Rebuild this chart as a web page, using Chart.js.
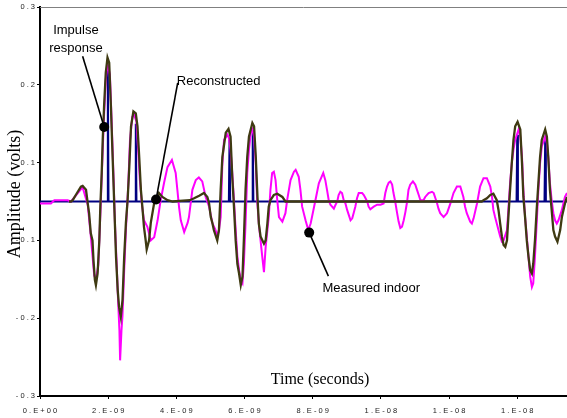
<!DOCTYPE html>
<html>
<head>
<meta charset="utf-8">
<script src="https://cdn.jsdelivr.net/npm/chart.js@4.4.1/dist/chart.umd.min.js"></script>
<style>
  html, body { margin: 0; padding: 0; background: #fff; }
  #wrap { width: 567px; height: 418px; position: relative; }
</style>
</head>
<body>
<div id="wrap"><canvas id="chart"></canvas></div>
<script>
// time in ns, amplitude in volts
const reconT = [0.85, 0.91, 0.96, 1.05, 1.20, 1.25, 1.35, 1.40, 1.44, 1.49, 1.54, 1.57, 1.61, 1.64, 1.69, 1.74, 1.77, 1.81, 1.84, 1.88,
  1.93, 1.98, 2.03, 2.08, 2.13, 2.18, 2.23, 2.28, 2.32, 2.37, 2.42, 2.47, 2.52, 2.57, 2.62, 2.67, 2.74, 2.81, 2.86, 2.91,
  2.96, 3.01, 3.05, 3.10, 3.13, 3.20, 3.25, 3.35, 3.45, 3.49, 3.59, 3.74, 3.89, 4.40, 4.52, 4.67, 4.81, 4.91, 4.96, 5.01,
  5.06, 5.10, 5.20, 5.25, 5.30, 5.35, 5.45, 5.53, 5.59, 5.64, 5.69, 5.74, 5.79, 5.84, 5.89, 5.94, 5.98, 6.03, 6.08, 6.13,
  6.23, 6.28, 6.33, 6.38, 6.42, 6.47, 6.57, 6.62, 6.67, 6.71, 6.76, 6.86, 6.96, 7.11, 7.20, 12.96, 13.01, 13.11, 13.21, 13.30,
  13.40, 13.45, 13.50, 13.55, 13.60, 13.65, 13.70, 13.74, 13.79, 13.84, 13.89, 13.94, 14.01, 14.09, 14.14, 14.18, 14.23, 14.28, 14.33, 14.38,
  14.43, 14.47, 14.52, 14.57, 14.62, 14.67, 14.72, 14.82, 14.87, 14.91, 14.96, 15.01, 15.06, 15.11, 15.18, 15.26, 15.31, 15.40, 15.46];
const reconV = [0, 0, 0.002, 0.010, 0.023, 0.024, 0.018, -0.003, -0.018, -0.049, -0.060, -0.091, -0.121, -0.129, -0.111, -0.060, -0.008, 0.044, 0.095, 0.147,
  0.199, 0.222, 0.214, 0.147, 0.069, -0.008, -0.085, -0.137, -0.163, -0.178, -0.152, -0.085, -0.033, 0.002, 0.054, 0.116, 0.139, 0.136, 0.116, 0.069,
  0.018, -0.013, -0.039, -0.060, -0.074, -0.060, -0.033, -0.002, 0.007, 0.013, 0.007, 0.002, 0, 0.002, 0.005, 0.009, 0.013, 0.007, -0.003, -0.024,
  -0.034, -0.044, -0.060, -0.044, 0.018, 0.069, 0.106, 0.112, 0.100, 0.038, -0.008, -0.060, -0.096, -0.111, -0.129, -0.116, -0.060, 0.018, 0.069, 0.100,
  0.121, 0.116, 0.069, 0.007, -0.034, -0.054, -0.065, -0.060, -0.034, -0.008, 0.002, 0.010, 0.012, 0.007, 0, 0, 0.002, 0.005, 0.010, 0.012,
  0.002, -0.013, -0.034, -0.054, -0.067, -0.070, -0.060, -0.024, 0.018, 0.059, 0.095, 0.116, 0.123, 0.111, 0.059, 0.007, -0.024, -0.060, -0.085, -0.106,
  -0.111, -0.096, -0.060, -0.013, 0.028, 0.069, 0.095, 0.111, 0.100, 0.069, 0.018, -0.013, -0.044, -0.054, -0.062, -0.044, -0.024, -0.003, 0.007];

const measT = [0, 0.32, 0.42, 0.81, 0.91, 1.05, 1.25, 1.40, 1.49, 1.59, 1.64, 1.71, 1.77, 1.84, 1.88, 1.93, 1.98, 2.05, 2.10, 2.16,
  2.20, 2.25, 2.29, 2.33, 2.35, 2.39, 2.42, 2.47, 2.52, 2.59, 2.64, 2.71, 2.76, 2.83, 2.88, 2.93, 2.99, 3.05, 3.15, 3.25,
  3.35, 3.45, 3.54, 3.64, 3.74, 3.87, 3.98, 4.03, 4.08, 4.13, 4.23, 4.33, 4.37, 4.47, 4.57, 4.66, 4.76, 4.86, 4.96, 5.06,
  5.15, 5.20, 5.25, 5.30, 5.35, 5.40, 5.50, 5.54, 5.59, 5.64, 5.69, 5.74, 5.79, 5.84, 5.89, 5.94, 5.98, 6.03, 6.08, 6.13,
  6.18, 6.23, 6.28, 6.33, 6.37, 6.42, 6.47, 6.52, 6.57, 6.62, 6.71, 6.76, 6.81, 6.86, 6.91, 6.96, 7.01, 7.11, 7.20, 7.25,
  7.35, 7.45, 7.50, 7.59, 7.64, 7.69, 7.79, 7.87, 7.94, 8.08, 8.18, 8.31, 8.37, 8.42, 8.47, 8.52, 8.62, 8.67, 8.72, 8.76,
  8.81, 8.86, 8.91, 8.96, 9.01, 9.06, 9.11, 9.16, 9.20, 9.25, 9.30, 9.35, 9.45, 9.50, 9.55, 9.60, 9.64, 9.69, 9.79, 9.89,
  9.99, 10.08, 10.13, 10.18, 10.23, 10.28, 10.33, 10.37, 10.42, 10.47, 10.52, 10.57, 10.62, 10.67, 10.72, 10.77, 10.81, 10.86, 10.94, 11.01,
  11.06, 11.11, 11.16, 11.25, 11.30, 11.40, 11.50, 11.55, 11.60, 11.65, 11.69, 11.74, 11.84, 11.94, 12.04, 12.13, 12.23, 12.33, 12.42, 12.47,
  12.52, 12.62, 12.67, 12.72, 12.82, 12.91, 13.01, 13.11, 13.21, 13.26, 13.30, 13.35, 13.40, 13.45, 13.50, 13.55, 13.60, 13.70, 13.74, 13.79,
  13.84, 13.89, 13.94, 14.04, 14.09, 14.14, 14.18, 14.23, 14.28, 14.33, 14.38, 14.43, 14.47, 14.52, 14.57, 14.62, 14.67, 14.72, 14.82, 14.87,
  14.91, 14.96, 15.01, 15.06, 15.11, 15.16, 15.21, 15.31, 15.40, 15.46];
const measV = [-0.003, -0.003, 0.002, 0.002, 0, 0.009, 0.022, -0.005, -0.053, -0.114, -0.121, -0.098, -0.021, 0.080, 0.134, 0.188, 0.212, 0.196, 0.126, 0.033,
  -0.036, -0.098, -0.152, -0.199, -0.245, -0.199, -0.176, -0.106, -0.044, 0.026, 0.095, 0.131, 0.134, 0.123, 0.080, 0.033, -0.005, -0.029, -0.039, -0.060,
  -0.055, -0.029, 0.002, 0.029, 0.053, 0.064, 0.044, 0.018, -0.009, -0.029, -0.047, -0.033, -0.024, 0.018, 0.033, 0.037, 0.031, 0.007, -0.008, -0.034,
  -0.044, -0.054, -0.044, -0.024, 0.059, 0.095, 0.103, 0.098, 0.080, 0.044, 0.002, -0.044, -0.085, -0.106, -0.121, -0.126, -0.096, -0.034, 0.044, 0.080,
  0.105, 0.111, 0.100, 0.059, 0.002, -0.034, -0.060, -0.085, -0.109, -0.070, -0.024, 0.018, 0.044, 0.046, 0.033, 0.002, -0.024, -0.031, -0.018, 0.002,
  0.033, 0.046, 0.049, 0.038, 0.018, -0.008, -0.029, -0.044, -0.034, 0.002, 0.028, 0.044, 0.033, 0.018, 0.002, -0.005, -0.011, -0.005, 0, 0.010,
  0.015, 0.013, 0.002, -0.003, -0.013, -0.021, -0.029, -0.026, -0.018, -0.008, 0.005, 0.013, 0.013, 0.010, 0.005, 0, -0.008, -0.012, -0.008, -0.005,
  -0.005, -0.003, 0.013, 0.023, 0.029, 0.031, 0.026, 0.013, 0, -0.016, -0.031, -0.041, -0.039, -0.029, -0.016, 0, 0.018, 0.026, 0.031, 0.026,
  0.018, 0.010, 0.002, 0.002, 0.007, 0.013, 0.015, 0.013, 0.005, -0.003, -0.011, -0.018, -0.024, -0.018, -0.003, 0.013, 0.023, 0.023, 0.007, -0.008,
  -0.018, -0.031, -0.034, -0.026, -0.003, 0.023, 0.036, 0.036, 0.023, 0.007, -0.013, -0.024, -0.034, -0.044, -0.054, -0.062, -0.060, -0.044, -0.013, 0.028,
  0.059, 0.080, 0.095, 0.111, 0.100, 0.069, 0.018, -0.024, -0.054, -0.085, -0.116, -0.132, -0.126, -0.085, -0.034, 0.018, 0.059, 0.085, 0.100, 0.090,
  0.069, 0.028, 0.002, -0.018, -0.029, -0.034, -0.029, -0.013, 0.007, 0.013];

const impulseT = [1.99, 2.81, 5.56, 6.24, 14.00, 14.82];
const impulseV = [0.205, 0.120, 0.095, 0.110, 0.103, 0.096];

const xTickValues = [0, 2, 4, 6, 8, 10, 12, 14];
const xTickLabels = ['0.E+00', '2.E-09', '4.E-09', '6.E-09', '8.E-09', '1.E-08', '1.E-08', '1.E-08'];
const yTickValues = [-0.3, -0.18, -0.06, 0.06, 0.18, 0.3];
const yTickLabels = ['-0.3', '-0.2', '-0.1', '0.1', '0.2', '0.3'];

// callouts: dot on a curve, line to the label
const callouts = [
  { dot: [1.883, 0.115], end: [1.25, 0.224], lines: ['Impulse', 'response'], at: [1.054, 0.259], align: 'center' },
  { dot: [3.405, 0.003], end: [4.04, 0.183], lines: ['Reconstructed'], at: [4.012, 0.180], align: 'left' },
  { dot: [7.897, -0.048], end: [8.46, -0.115], lines: ['Measured indoor'], at: [8.287, -0.140], align: 'left' }
];

const pts = (ts, vs) => ts.map((t, i) => ({ x: t, y: vs[i] }));

const impulsePts = [{ x: 0, y: 0 }];
impulseT.forEach((t, i) => {
  impulsePts.push({ x: t - 0.02, y: 0 }, { x: t, y: impulseV[i] }, { x: t + 0.02, y: 0 });
});
impulsePts.push({ x: 15.46, y: 0 });

const spaced = s => s.split('').join(' ');

const overlay = {
  id: 'overlay',
  afterDatasetsDraw(chart) {
    const { ctx, chartArea: a, scales: { x, y } } = chart;
    ctx.save();
    ctx.strokeStyle = '#808080';
    ctx.lineWidth = 1;
    ctx.beginPath();
    ctx.moveTo(a.left, a.top + 0.5);
    ctx.lineTo(a.right, a.top + 0.5);
    ctx.stroke();

    ctx.fillStyle = '#000';
    ctx.font = '16px "Liberation Serif"';
    ctx.textAlign = 'center';
    ctx.textBaseline = 'middle';
    ctx.fillText('Time (seconds)', 320, 380);

    ctx.save();
    ctx.translate(15, 194);
    ctx.rotate(-Math.PI / 2);
    ctx.font = '18px "Liberation Serif"';
    ctx.fillText('Amplitude (volts)', 0, 0);
    ctx.restore();

    ctx.font = '13px "Liberation Sans"';
    ctx.textBaseline = 'alphabetic';
    ctx.strokeStyle = '#000';
    ctx.lineWidth = 1.6;
    callouts.forEach(c => {
      const dx = x.getPixelForValue(c.dot[0]), dy = y.getPixelForValue(c.dot[1]);
      ctx.beginPath();
      ctx.moveTo(dx, dy);
      ctx.lineTo(x.getPixelForValue(c.end[0]), y.getPixelForValue(c.end[1]));
      ctx.stroke();
      ctx.beginPath();
      ctx.arc(dx, dy, 5, 0, Math.PI * 2);
      ctx.fill();
      ctx.textAlign = c.align;
      const tx = x.getPixelForValue(c.at[0]), ty = y.getPixelForValue(c.at[1]);
      c.lines.forEach((l, i) => ctx.fillText(l, tx, ty + i * 18));
    });
    ctx.restore();
  }
};

new Chart(document.getElementById('chart'), {
  type: 'line',
  data: {
    datasets: [
      { label: 'Reconstructed', data: pts(reconT, reconV), borderColor: '#3f3a12', borderWidth: 2.3 },
      { label: 'Measured indoor', data: pts(measT, measV), borderColor: '#ff00ff', borderWidth: 2 },
      { label: 'Impulse response', data: impulsePts, borderColor: '#000080', borderWidth: 2 }
    ]
  },
  options: {
    responsive: true,
    maintainAspectRatio: false,
    animation: false,
    events: [],
    layout: { padding: { top: 7, right: 0, left: 0, bottom: 0 } },
    elements: { point: { radius: 0 }, line: { tension: 0, fill: false } },
    plugins: { legend: { display: false }, tooltip: { enabled: false } },
    scales: {
      x: {
        type: 'linear',
        min: 0,
        max: 15.46,
        afterBuildTicks: s => { s.ticks = xTickValues.map(v => ({ value: v })); },
        afterFit: s => { s.height = 22; },
        border: { color: '#000', width: 2 },
        grid: { drawOnChartArea: false, color: '#000', tickLength: 3 },
        ticks: {
          autoSkip: false,
          maxRotation: 0,
          padding: 7,
          color: '#222',
          font: { family: 'Liberation Sans', size: 7.5 },
          callback: (v, i) => spaced(xTickLabels[i])
        }
      },
      y: {
        type: 'linear',
        min: -0.3,
        max: 0.3,
        afterBuildTicks: s => { s.ticks = yTickValues.map(v => ({ value: v })); },
        afterFit: s => { s.width = 40; },
        border: { color: '#000', width: 2 },
        grid: { drawOnChartArea: false, color: '#000', tickLength: 3 },
        ticks: {
          autoSkip: false,
          padding: 2,
          color: '#222',
          font: { family: 'Liberation Sans', size: 7.5 },
          callback: (v, i) => spaced(yTickLabels[i])
        }
      }
    }
  },
  plugins: [overlay]
});
</script>
</body>
</html>
